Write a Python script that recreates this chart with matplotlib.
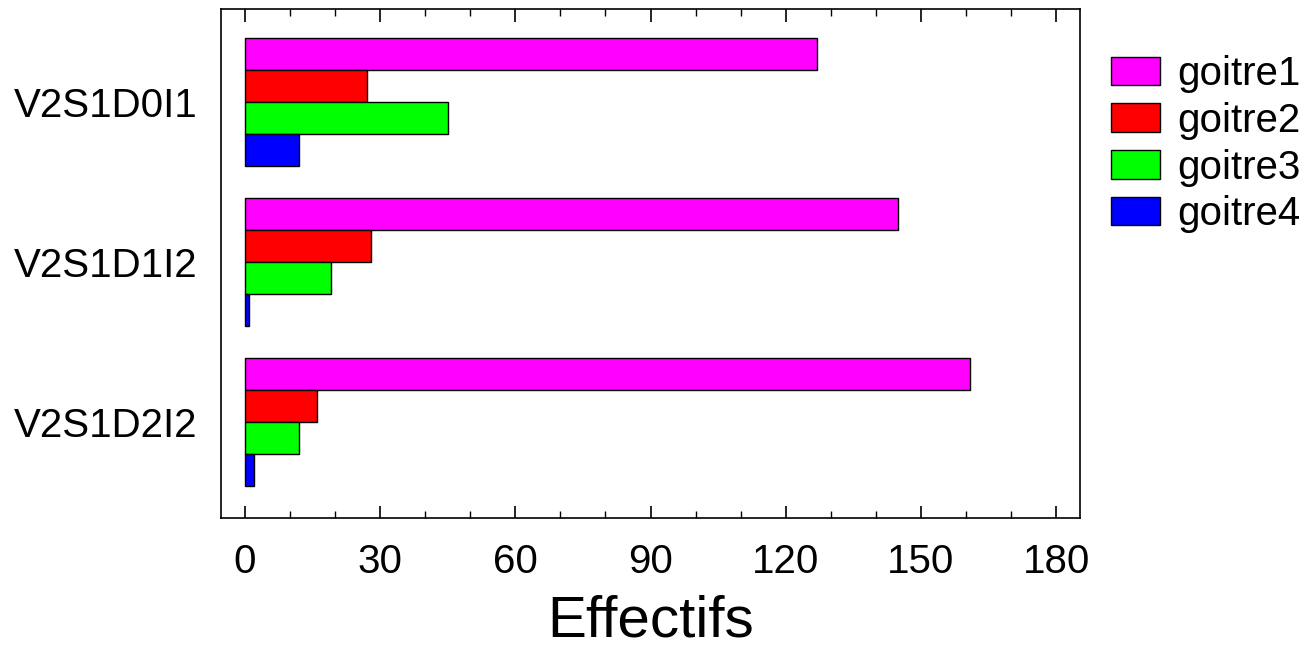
import matplotlib
matplotlib.use("Agg")
import matplotlib.pyplot as plt
import numpy as np
from matplotlib.ticker import MultipleLocator

categories = ["V2S1D0I1", "V2S1D1I2", "V2S1D2I2"]
series_names = ["goitre1", "goitre2", "goitre3", "goitre4"]
goitre1 = [127, 145, 161]
goitre2 = [27, 28, 16]
goitre3 = [45, 19, 12]
goitre4 = [12, 1, 2]
series_values = [goitre1, goitre2, goitre3, goitre4]
colors = ["#ff00ff", "#ff0000", "#00ff00", "#0000ff"]
x_ticks = [0, 30, 60, 90, 120, 150, 180]

plt.rcParams['font.family'] = ['Liberation Sans', 'DejaVu Sans']

fig = plt.figure(figsize=(13.1, 6.49), dpi=100)
ax = fig.add_axes([221/1310, 1 - 518/649, (1080-221)/1310, (518-9)/649])

y = np.arange(len(categories))
h = 0.2
for i, (name, vals) in enumerate(zip(series_names, series_values)):
    ax.barh(y + (i - 1.5) * h, vals, height=h, color=colors[i],
            edgecolor='black', linewidth=1.0, label=name)

ax.set_xlim(-5.3, 185.3)
ax.set_ylim(2.6, -0.58)
ax.set_yticks(y)
ax.set_yticklabels(categories)
ax.set_xticks(x_ticks)
ax.xaxis.set_minor_locator(MultipleLocator(10))
ax.tick_params(axis='x', which='major', direction='in', length=9, width=1.2,
               top=True, labelsize=29, pad=18)
ax.tick_params(axis='x', which='minor', direction='in', length=5, width=1.0, top=True)
ax.tick_params(axis='y', which='both', length=0, labelsize=29, pad=17)
for s in ax.spines.values():
    s.set_linewidth(1.2)
ax.set_xlabel("Effectifs", fontsize=42, labelpad=10)

leg = ax.legend(loc='upper left', bbox_to_anchor=(1.036, 0.91), frameon=False,
                fontsize=29, handlelength=1.22, handleheight=0.7,
                labelspacing=0.22, handletextpad=0.42, borderaxespad=0,
                borderpad=0)

fig.savefig("out.png", dpi=100)
